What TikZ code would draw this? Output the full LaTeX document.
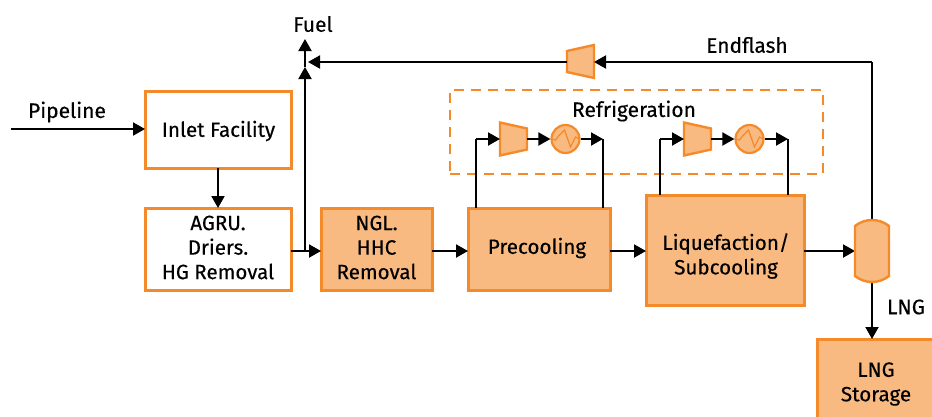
\documentclass[tikz,border=0pt]{standalone}
\usepackage{fontspec}
\setmainfont[FakeBold=0.35]{Fira Sans}
\usetikzlibrary{arrows.meta}
\definecolor{orln}{HTML}{F58A2B}
\definecolor{orfl}{HTML}{F9BA82}
\newcommand{\compL}[3]{% name, cx, cy : big side left
  \node[anchorbox,minimum width=27pt,minimum height=33pt] (#1) at (#2,#3) {};
  \draw[unit] (#1.north west) -- ([yshift=-6pt]#1.north east) -- ([yshift=6pt]#1.south east) -- (#1.south west) -- cycle;}
\newcommand{\compR}[3]{% name, cx, cy : big side right
  \node[anchorbox,minimum width=27pt,minimum height=33pt] (#1) at (#2,#3) {};
  \draw[unit] ([yshift=-6pt]#1.north west) -- (#1.north east) -- (#1.south east) -- ([yshift=6pt]#1.south west) -- cycle;}
\newcommand{\exch}[3]{% name, cx, cy
  \node[circle,draw=orln,fill=orfl,line width=2.2pt,minimum size=28pt,inner sep=0pt] (#1) at (#2,#3) {};
  \draw[orln,line width=1.3pt] ([xshift=-14pt]#2,#3) -- ([xshift=-10pt,yshift=-1pt]#2,#3) -- ([xshift=-7pt,yshift=3pt]#2,#3) -- ([xshift=-1pt,yshift=9pt]#2,#3) -- ([xshift=5pt,yshift=-8pt]#2,#3) -- ([xshift=10pt,yshift=2pt]#2,#3) -- ([xshift=14pt]#2,#3);}
\tikzset{
  x=1pt,y=-1pt,
  anchorbox/.style={inner sep=0pt,outer sep=0pt,draw=none},
  unit/.style={draw=orln,fill=orfl,line width=2.4pt,line join=miter},
  whitebox/.style={draw=orln,fill=white,line width=3pt,inner sep=0pt,outer sep=0pt},
  fillbox/.style={whitebox,fill=orfl},
  tx/.style={inner sep=0pt,align=center,font=\fontsize{20.6}{24.5}\selectfont},
  lbl/.style={inner sep=0pt,font=\fontsize{21}{24}\selectfont},
  conn/.style={black,line width=2pt,-{Triangle[length=12pt,width=13pt]}},
  plain/.style={black,line width=2pt},
}
\begin{document}
\begin{tikzpicture}
\useasboundingbox (0,0) rectangle (932,416);
% free ends
\coordinate (pipeStart) at (11,129);
\coordinate (junction) at (305,251);
\coordinate (fuelMid) at (305,67);
\coordinate (fuelTop) at (305,39);
\coordinate (fuelMidTip) at (308,62);
\coordinate (corner) at (872,62);
\coordinate (aL) at (476,139);
\coordinate (aR) at (603,139);
\coordinate (bL) at (660,139);
\coordinate (bR) at (788,139);
% boxes
\node[whitebox,minimum width=146pt,minimum height=77pt] (inlet) at (218,129.5) {};
\node[tx] (inlett) at (218.5,131) {Inlet Facility};
\node[whitebox,minimum width=146pt,minimum height=82pt] (agru) at (218,249) {};
\node[tx] (agrut) at (218,247.5) {AGRU.\\Driers.\\HG Removal};
\node[fillbox,minimum width=111pt,minimum height=82pt] (ngl) at (376.5,249) {};
\node[tx] (nglt) at (376.5,247.5) {NGL.\\HHC\\Removal};
\node[fillbox,minimum width=142pt,minimum height=82pt] (pre) at (539,249) {};
\node[tx] (pret) at (537,248) {Precooling};
\node[fillbox,minimum width=158pt,minimum height=110pt] (liq) at (725,250) {};
\node[tx] (liqt) at (726,256) {Liquefaction/\\Subcooling};
\node[fillbox,minimum width=125pt,minimum height=92pt] (stor) at (879.5,385) {};
\node[tx] (stort) at (876,384) {LNG\\Storage};
% dashed
\node[anchorbox,draw=orln,dash pattern=on 10pt off 7pt,line width=2.4pt,minimum width=373pt,minimum height=84pt] (refr) at (636.5,132) {};
% connectors
\draw[conn] (pipeStart) -- (inlet.west |- pipeStart);
\draw[conn] (inlet) -- (agru);
\draw[plain] (agru.east |- junction) -- (junction);
\draw[conn] (junction) -- (ngl.west |- junction);
\draw[conn] (junction) -- (fuelMid);
\draw[conn] (fuelMid) -- (fuelTop);
\draw[conn] (ngl.east |- junction) -- (pre.west |- junction);
\draw[conn] (pre.east |- junction) -- (liq.west |- junction);
\draw[plain] (pre.north -| aL) -- (aL);
\draw[plain] (pre.north -| aR) -- (aR);
\draw[plain] (liq.north -| bL) -- (bL);
\draw[plain] (liq.north -| bR) -- (bR);
\node[lbl] (refrl) at (634,111) {Refrigeration};
\node[lbl] (pipel) at (67,112) {Pipeline};
\node[lbl] (fuell) at (313,24) {Fuel};
\node[lbl] (endl) at (747,45) {Endflash};
\node[lbl] (lngl) at (906,307) {LNG};
% separator
\node[anchorbox,minimum width=34pt,minimum height=64pt] (sep) at (872,251) {};
\draw[conn] (liq.east |- sep) -- (sep.west);
\draw[conn] (sep.south) -- (sep.south |- stor.north);
\draw[plain] (sep.north) -- (corner);
\draw[unit] (855,226) .. controls (865,218) and (879,218) .. (889,226) -- (889,276) .. controls (879,284) and (865,284) .. (855,276) -- cycle;
% units
\compR{cfl}{580.5}{61.5}
\draw[conn] (corner) -- (cfl.east |- corner);
\draw[conn] (cfl.west |- corner) -- (fuelMidTip);
\compL{cA}{513.5}{139}
\compL{cB}{697.5}{139}
\exch{eA}{565.5}{139}
\exch{eB}{749.5}{139}
\draw[conn] (aL) -- (cA.west);
\draw[conn] (cA.east) -- (eA.west);
\draw[conn] (eA.east) -- (aR);
\draw[conn] (bL) -- (cB.west);
\draw[conn] (cB.east) -- (eB.west);
\draw[conn] (eB.east) -- (bR);
\end{tikzpicture}
\end{document}
